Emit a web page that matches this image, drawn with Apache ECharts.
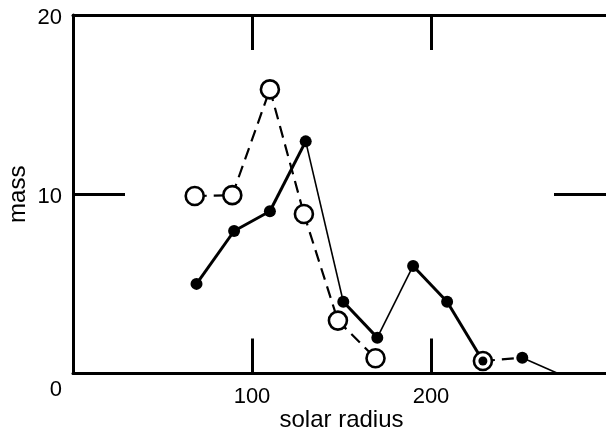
<!DOCTYPE html>
<html>
<head>
<meta charset="utf-8">
<script src="https://cdn.jsdelivr.net/npm/echarts@6/dist/echarts.min.js"></script>
<style>
    html, body {margin: 0; padding: 0; background: #fff;}
    #main {width: 606px; height: 433px;}
</style>
</head>
<body>
<div id="main"></div>
<script>
// filled dots (solid line) and open circles (dashed line)
var radiusFilled = [69, 90, 110, 130, 151, 170, 190, 209, 229, 251, 271];
var massFilled = [5.0, 7.95, 9.05, 12.95, 4.0, 2.0, 6.0, 4.0, 0.7, 0.88, 0];
var radiusOpen = [68, 89, 110, 129, 148, 169, 229];
var massOpen = [9.9, 9.95, 15.85, 8.9, 2.95, 0.85, 0.7];
var xTicks = [0, 100, 200, 300];
var yTicks = [0, 10, 20];

// look of each segment of the filled series, and of the open series
var filledSegStyle = ['thick', 'thick', 'thick', 'thin', 'thick', 'thin', 'thick', 'thick', 'dash', 'thin'];
var openSegStyle = ['dash', 'dash', 'dash', 'dash', 'dash', 'none'];

var lineStyles = {
    thick: {color: '#000', width: 3, type: 'solid'},
    thin: {color: '#000', width: 1.6, type: 'solid'},
    dash: {color: '#000', width: 2.2, type: [12, 7]}
};

var myChart = echarts.init(document.getElementById('main'), null, {renderer: 'canvas'});

var series = [];
//每一段单独画成一条线，这样粗细和虚线可以不同
function addSegments(xs, ys, styles) {
    for (var i = 0; i < styles.length; i++) {
        if (styles[i] === 'none') continue;
        series.push({
            type: 'line',
            data: [[xs[i], ys[i]], [xs[i + 1], ys[i + 1]]],
            showSymbol: false,
            silent: true,
            z: 2,
            lineStyle: lineStyles[styles[i]]
        });
    }
}
addSegments(radiusFilled, massFilled, filledSegStyle);
addSegments(radiusOpen, massOpen, openSegStyle);

var openPoints = [];
for (var i = 0; i < radiusOpen.length; i++) {
    openPoints.push([radiusOpen[i], massOpen[i]]);
}
series.push({
    type: 'scatter',
    data: openPoints,
    symbol: 'circle',
    symbolSize: 18,
    z: 3,
    silent: true,
    itemStyle: {color: '#fff', borderColor: '#000', borderWidth: 2.6, opacity: 1}
});

var filledPoints = [];
// last point is only the line end, no dot
for (var j = 0; j < radiusFilled.length - 1; j++) {
    var item = {value: [radiusFilled[j], massFilled[j]]};
    if (radiusFilled[j] === radiusOpen[radiusOpen.length - 1]) item.symbolSize = 9;
    filledPoints.push(item);
}
series.push({
    type: 'scatter',
    data: filledPoints,
    symbol: 'circle',
    symbolSize: 12,
    z: 4,
    silent: true,
    itemStyle: {color: '#000', opacity: 1}
});

var font = 'Liberation Sans';
var axisLine = {show: true, onZero: false, lineStyle: {color: '#000', width: 3}};

myChart.setOption({
    animation: false,
    backgroundColor: '#fff',
    grid: {left: 73, top: 15, right: -4, bottom: 59.5, containLabel: false, outerBoundsMode: 'none'},
    xAxis: [{
        type: 'value',
        position: 'bottom',
        min: xTicks[0],
        max: xTicks[xTicks.length - 1],
        interval: 100,
        name: 'solar radius',
        nameLocation: 'middle',
        nameGap: 35,
        nameMoveOverlap: false,
        nameTextStyle: {color: '#000', fontSize: 24, fontFamily: font},
        axisLine: axisLine,
        axisTick: {show: true, inside: true, length: 35, lineStyle: {color: '#000', width: 3}},
        axisLabel: {
            color: '#000', fontSize: 22, fontFamily: font, margin: 12,
            formatter: function (v) {
                return (v === 0 || v === 300) ? '' : String(v);
            }
        },
        splitLine: {show: false}
    }, {
        type: 'value',
        position: 'top',
        min: xTicks[0],
        max: xTicks[xTicks.length - 1],
        interval: 100,
        axisLine: axisLine,
        axisTick: {show: true, inside: true, length: 35, lineStyle: {color: '#000', width: 3}},
        axisLabel: {show: false},
        splitLine: {show: false}
    }],
    yAxis: [{
        type: 'value',
        position: 'left',
        min: yTicks[0],
        max: yTicks[yTicks.length - 1],
        interval: 10,
        name: 'mass',
        nameLocation: 'middle',
        nameGap: 43,
        nameMoveOverlap: false,
        nameTextStyle: {color: '#000', fontSize: 24, fontFamily: font},
        axisLine: axisLine,
        axisTick: {show: true, inside: true, length: 52, lineStyle: {color: '#000', width: 3}},
        axisLabel: {
            color: '#000', fontSize: 22, fontFamily: font, margin: 11,
            formatter: function (v) {
                return v === 0 ? '{low|0}' : '{n|' + v + '}';
            },
            rich: {
                n: {color: '#000', fontSize: 22, fontFamily: font, padding: [5, 0, 0, 0]},
                low: {color: '#000', fontSize: 22, fontFamily: font, padding: [33, 0, 0, 0]}
            }
        },
        splitLine: {show: false}
    }, {
        type: 'value',
        position: 'right',
        min: yTicks[0],
        max: yTicks[yTicks.length - 1],
        interval: 10,
        axisLine: axisLine,
        axisTick: {show: true, inside: true, length: 56, lineStyle: {color: '#000', width: 3}},
        axisLabel: {show: false},
        splitLine: {show: false}
    }],
    series: series
});
</script>
</body>
</html>
